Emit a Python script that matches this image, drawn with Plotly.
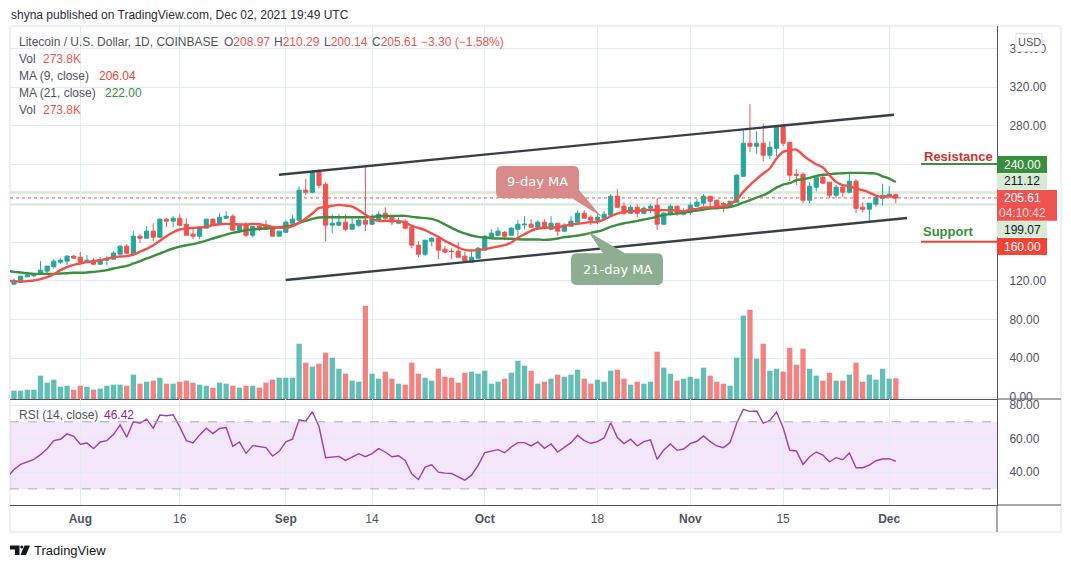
import pandas as pd
import plotly.graph_objects as go
from plotly.subplots import make_subplots

# daily candles, LTC/USD on Coinbase, first bar 22 Jul 2021
first_day = "2021-07-22"
# the indicator lines start one day earlier, under the left edge of the chart
first_line_day = "2021-07-21"

opens = [116.6,118.6,124.1,125.2,126.9,130.0,134.5,139.3,140.3,145.5,144.4,139.3,141.3,137.2,141.3,142.4,147.5,155.8,147.5,166.1,
         164.0,171.3,165.1,183.7,181.6,184.7,178.5,168.2,166.1,174.4,183.7,178.5,184.7,186.7,172.3,177.5,167.1,176.4,177.5,174.4,
         166.1,170.2,179.5,182.6,213.6,211.5,232.2,219.8,177.5,177.5,180.6,173.3,177.5,182.6,178.5,182.6,189.8,185.7,179.5,181.6,
         175.4,156.8,147.5,160.9,164.0,152.7,150.6,150.6,145.5,139.3,143.4,151.7,165.1,167.1,170.2,167.1,173.3,177.8,178.5,175.4,
         180.6,173.3,179.5,171.3,176.4,180.6,189.8,185.7,182.6,184.7,187.8,207.4,197.1,189.8,196.0,189.8,195.0,198.1,178.5,188.8,
         197.1,188.8,190.9,197.1,200.2,207.4,203.3,199.8,197.1,201.2,228.0,262.1,259.0,262.1,249.7,256.9,279.6,263.1,230.1,230.1,
         203.3,216.7,227.0,221.9,208.4,216.7,211.5,222.9,196.1,194.0,199.2,205.3,207.4,208.97]
highs = [122.4,124.8,128.3,128.3,140.3,135.2,142.4,143.4,146.5,146.5,149.6,146.5,143.4,144.4,145.5,150.6,156.8,157.9,171.3,168.2,
         176.4,179.5,184.7,184.7,186.7,188.8,184.7,174.4,176.4,183.7,184.7,189.8,191.9,188.8,178.5,180.6,176.4,179.5,182.6,174.4,
         171.3,182.6,187.8,217.7,224.9,234.2,234.2,221.8,188.8,188.8,188.8,184.7,184.7,238.3,188.8,191.9,196.0,187.8,185.4,183.7,
         175.4,160.9,162.0,165.1,165.1,155.8,153.7,159.9,149.6,150.6,154.8,167.1,173.3,175.4,171.3,175.4,182.6,186.7,183.7,182.6,
         183.7,186.7,179.5,179.5,186.7,192.9,192.9,187.8,188.8,191.9,209.5,214.6,201.2,198.1,199.1,197.1,199.1,205.3,190.9,199.2,
         197.1,195.0,201.2,204.3,209.5,207.4,203.3,201.2,202.2,230.1,275.5,302.4,274.5,282.7,264.2,279.6,281.7,263.1,235.3,232.2,
         221.9,229.1,231.1,221.9,218.8,218.8,231.1,225.0,201.2,200.2,206.4,219.8,217.7,210.29]
lows = [115.5,118.0,123.8,123.8,126.9,127.6,132.7,137.2,136.5,142.4,137.2,138.2,136.2,136.2,136.2,142.4,147.5,147.5,145.5,158.9,
        164.0,160.9,164.0,175.4,175.4,176.4,167.1,163.0,163.0,174.4,176.4,177.5,183.7,172.3,169.2,165.1,165.1,171.3,173.3,166.1,
        166.1,169.2,179.5,180.6,208.4,210.5,215.6,160.9,169.2,176.4,171.3,173.3,175.4,171.3,177.5,180.6,181.6,177.5,178.5,173.3,
        153.7,144.4,145.5,155.8,142.4,148.6,142.4,144.4,139.3,139.3,143.4,151.7,164.0,166.1,162.0,167.1,164.0,173.3,175.4,174.4,
        173.3,172.3,166.1,170.2,176.4,179.5,184.7,177.5,178.5,184.7,186.7,195.0,187.8,188.8,185.7,189.8,189.8,172.3,177.5,187.8,
        186.8,187.8,187.8,197.1,197.1,196.1,195.0,190.9,197.1,201.2,227.0,252.8,250.8,243.5,245.6,248.7,259.0,222.9,218.8,200.2,
        200.2,212.6,219.8,205.3,205.3,206.4,210.5,189.9,190.9,181.6,196.1,198.1,206.4,200.14]
closes = [120.4,124.8,126.2,127.2,131.0,135.2,140.3,141.3,145.5,143.4,139.3,141.3,137.2,142.0,143.4,148.6,155.8,148.6,166.1,164.0,
          171.3,165.1,183.7,181.6,184.7,177.5,167.1,166.1,175.4,183.7,177.5,185.7,186.7,172.3,177.5,167.1,176.4,174.4,173.3,166.1,
          171.3,180.6,183.7,213.6,211.5,232.2,218.7,177.5,179.5,180.6,173.3,178.5,182.6,178.5,183.7,188.8,184.7,180.6,181.6,174.4,
          156.8,147.5,162.0,164.0,151.7,149.6,150.3,144.4,140.3,144.4,153.7,166.1,169.2,171.3,166.1,174.4,178.5,178.5,175.4,180.6,
          174.4,179.5,171.3,177.5,181.6,189.8,184.7,182.6,185.7,188.8,207.4,196.0,189.8,196.0,189.8,195.0,197.1,178.5,189.9,197.1,
          190.9,191.9,198.1,201.2,207.4,202.2,197.1,199.2,202.2,229.1,262.1,259.0,262.1,249.7,258.0,279.6,262.1,229.1,229.1,203.3,
          217.7,227.0,220.8,208.4,216.7,211.5,222.9,195.0,194.0,200.2,206.4,208.4,209.5,205.61]
volumes = [110,110,123,123,309,216,256,163,176,123,176,163,123,137,176,190,190,176,322,203,
           229,243,282,203,203,229,243,216,190,176,150,216,203,176,150,176,176,150,216,256,
           282,282,282,732,481,428,467,613,547,401,335,243,229,1235,335,269,362,269,203,190,
           481,335,282,243,401,295,282,216,348,362,335,375,203,229,269,348,507,441,375,203,
           229,269,322,295,322,388,269,203,256,229,375,388,269,190,229,203,229,626,415,335,
           243,269,295,269,415,309,229,203,176,547,1103,1182,534,732,375,401,362,679,454,666,
           401,309,243,348,243,243,322,481,229,322,256,401,269,273.8]
ma9 = [120.0,119.7,119.0,119.7,120.4,121.7,123.8,126.9,131.0,134.1,136.5,137.9,139.3,140.3,141.3,142.7,144.4,145.1,145.5,147.2,150.0,
       153.0,156.8,161.3,166.1,170.2,173.0,174.0,174.7,175.0,175.7,177.5,178.5,178.8,178.5,178.2,178.2,178.8,178.5,177.1,175.7,
       175.0,174.7,176.4,179.9,184.3,189.5,195.3,196.0,197.5,198.4,197.8,196.7,192.9,188.5,184.0,181.9,181.9,181.9,181.9,180.2,
       176.8,174.7,172.3,168.9,165.4,161.3,157.9,154.4,152.0,151.3,151.7,152.7,154.1,155.4,156.8,159.6,164.4,168.2,171.6,174.0,
       174.7,175.0,175.4,176.8,178.2,178.8,179.9,180.6,180.9,183.3,186.7,189.5,191.2,191.9,192.3,192.9,193.3,192.9,193.0,193.0,
       192.6,191.6,193.6,194.3,195.7,195.7,196.4,197.1,199.2,204.0,211.9,218.8,225.0,230.8,236.0,246.3,253.2,254.9,255.6,249.7,
       244.6,240.4,237.0,229.1,222.2,218.8,217.7,215.3,213.6,211.2,208.1,206.7,207.4,206.04]
ma21 = [130.2,129.3,128.6,127.9,127.2,127.2,127.2,127.2,127.6,127.9,128.3,128.3,128.6,129.3,130.0,131.0,132.7,134.1,135.5,137.9,140.3,
        143.1,145.5,148.2,151.0,153.4,155.4,156.8,157.9,159.6,161.6,163.7,165.8,167.8,169.6,170.9,172.3,173.0,173.7,174.0,174.7,
        175.4,176.4,177.5,179.9,181.9,184.0,185.4,185.7,185.7,185.7,185.7,185.7,185.7,185.7,186.1,186.7,187.1,187.1,187.1,187.1,
        186.1,185.4,184.7,184.0,181.6,178.2,174.7,171.3,168.9,166.8,165.4,164.7,164.0,163.7,163.7,163.4,163.0,162.7,162.7,162.7,
        162.3,162.7,163.7,165.1,165.8,166.8,167.8,169.6,170.9,173.0,175.7,177.8,179.5,180.6,181.9,183.3,184.7,186.4,188.1,188.8,
        189.5,190.2,191.6,192.6,193.6,194.7,195.0,195.7,196.1,198.1,200.9,203.3,206.0,208.4,211.9,216.3,219.4,220.8,223.9,225.0,
        226.3,228.4,229.4,230.1,230.8,231.1,231.5,231.5,231.5,231.1,230.8,228.0,225.6,222.0]
rsi = [37.0,41.6,44.6,46.2,47.6,50.4,54.0,58.8,59.6,62.8,61.4,56.6,57.4,54.0,58.0,58.8,62.4,68.2,60.8,70.0,69.2,
       71.6,66.2,74.0,73.6,74.2,67.0,58.8,57.4,62.2,66.2,63.0,66.0,66.6,55.4,58.0,51.2,55.8,55.4,54.6,49.6,
       52.4,58.0,59.6,71.2,70.4,76.0,67.2,48.6,49.2,49.4,47.0,49.0,51.0,49.2,51.0,54.0,52.0,49.2,49.8,47.0,
       38.8,35.6,43.0,44.4,40.0,39.4,39.2,37.2,35.2,38.2,44.0,51.6,52.6,53.4,51.6,55.0,57.6,57.6,55.6,58.0,
       54.2,56.8,52.0,55.0,57.6,62.0,58.8,57.2,58.2,60.4,69.4,60.6,57.0,59.6,55.6,58.2,59.2,47.6,53.2,56.8,
       53.0,53.8,57.0,58.4,61.6,58.2,55.6,54.6,57.6,69.2,77.4,76.2,76.4,69.2,70.8,75.8,66.6,53.0,52.6,44.6,
       49.2,52.0,50.2,46.2,48.6,47.4,51.4,42.6,42.6,44.2,46.8,47.8,48.0,46.42]

date_ticks = ["2021-08-01", "2021-08-16", "2021-09-01", "2021-09-14", "2021-10-01",
              "2021-10-18", "2021-11-01", "2021-11-15", "2021-12-01"]
date_labels = ["<b>Aug</b>", "16", "<b>Sep</b>", "14", "<b>Oct</b>", "18", "<b>Nov</b>", "15", "<b>Dec</b>"]
price_ticks = [0, 40, 80, 120, 160, 200, 240, 280, 320, 360]
# 160, 200 and 240 sit behind the tags on the price axis
price_labels = ["0.00", "40.00", "80.00", "120.00", "", "", "", "280.00", "320.00", "360.00"]
rsi_ticks = [40, 60, 80]

dates = pd.date_range(first_day, periods=len(closes))
line_dates = pd.date_range(first_line_day, periods=len(ma9))

TEAL = "#26a69a"
RED = "#ef5350"
GREY = "#50535e"
GRID = "#e3ecf3"
MA_RED = "#f44f48"
MA_GREEN = "#3b8f3f"
FONT = "Liberation Sans"

# plot area in page pixels
LEFT, RIGHT, TOP, BOTTOM = 10, 997, 26, 505
SPLIT = 399


def px(x):
    return (x - LEFT) / (RIGHT - LEFT)


def py(y):
    return (BOTTOM - y) / (BOTTOM - TOP)


def pt(x, y):
    return f"{px(x):.5f},{py(y):.5f}"


fig = make_subplots(rows=2, cols=1, shared_xaxes=True, vertical_spacing=0,
                    row_heights=[SPLIT - TOP, BOTTOM - SPLIT],
                    specs=[[{"secondary_y": True}], [{}]])

vol_colors = ["rgba(38,166,154,0.72)" if c >= o else "rgba(239,83,80,0.72)" for o, c in zip(opens, closes)]
fig.add_trace(go.Bar(x=dates, y=volumes, marker_color=vol_colors, marker_line_width=0), row=1, col=1, secondary_y=True)
fig.add_trace(go.Candlestick(x=dates, open=opens, high=highs, low=lows, close=closes,
                             increasing=dict(line=dict(color=TEAL, width=1), fillcolor=TEAL),
                             decreasing=dict(line=dict(color=RED, width=1), fillcolor=RED),
                             whiskerwidth=0), row=1, col=1, secondary_y=False)
fig.add_trace(go.Scatter(x=line_dates, y=ma21, mode="lines", line=dict(color=MA_GREEN, width=2.4, shape="spline")),
              row=1, col=1, secondary_y=False)
fig.add_trace(go.Scatter(x=line_dates, y=ma9, mode="lines", line=dict(color=MA_RED, width=2.4, shape="spline")),
              row=1, col=1, secondary_y=False)
fig.add_trace(go.Scatter(x=line_dates, y=rsi, mode="lines", line=dict(color="#a33bb5", width=1.4)), row=2, col=1)

start = dates[0] - pd.Timedelta(hours=14.5)
end = dates[0] + pd.Timedelta(days=148.26)
fig.update_xaxes(domain=[0, 1], range=[start, end], rangeslider_visible=False, tickvals=date_ticks, ticktext=date_labels,
                 showgrid=True, gridcolor=GRID, gridwidth=1, zeroline=False, showline=True, linecolor=GREY, linewidth=1,
                 ticks="", tickfont=dict(family=FONT, size=12, color=GREY), ticklabelstandoff=3)
fig.update_xaxes(showticklabels=False, row=1, col=1)

fig.update_yaxes(side="right", range=[-2.06, 383.2], tickvals=price_ticks, ticktext=price_labels,
                 showgrid=True, gridcolor=GRID, gridwidth=1, zeroline=False, showline=True, linecolor=GREY, linewidth=1,
                 ticks="", tickfont=dict(family=FONT, size=12, color=GREY), ticklabelstandoff=9,
                 row=1, col=1, secondary_y=False)
fig.update_yaxes(range=[0, 4939], visible=False, showgrid=False, row=1, col=1, secondary_y=True)
fig.update_yaxes(side="right", range=[20.4, 83.6], tickvals=rsi_ticks, tickformat=".2f",
                 showgrid=True, gridcolor=GRID, gridwidth=1, zeroline=False, showline=True, linecolor=GREY, linewidth=1,
                 ticks="", tickfont=dict(family=FONT, size=12, color=GREY), ticklabelstandoff=9, row=2, col=1)

shapes = []
notes = []


def line_px(x0, y0, x1, y1, color, width=1, dash="solid"):
    shapes.append(dict(type="line", xref="paper", yref="paper", x0=px(x0), y0=py(y0), x1=px(x1), y1=py(y1),
                       line=dict(color=color, width=width, dash=dash), layer="above"))


def box_px(x0, y0, x1, y1, fill):
    shapes.append(dict(type="rect", xref="paper", yref="paper", x0=px(x0), y0=py(y0), x1=px(x1), y1=py(y1),
                       fillcolor=fill, line_width=0, layer="above"))


def note(x, y, text, color=GREY, size=12, anchor="left", family=FONT):
    notes.append(dict(xref="paper", yref="paper", x=px(x), y=py(y), text=text, showarrow=False,
                      xanchor=anchor, yanchor="middle", align=anchor, borderpad=0,
                      font=dict(family=family, size=size, color=color)))


# outer frame and pane separators running past the price axis
shapes.append(dict(type="rect", xref="paper", yref="paper", x0=px(10), y0=py(26), x1=px(1061), y1=py(532),
                   line=dict(color="#eff1f6", width=2.5), layer="below"))
line_px(997, 399, 1061, 399, GREY)
line_px(997, 505, 1061, 505, GREY)
line_px(997, 505, 997, 532, GREY)

# RSI band
shapes.append(dict(type="rect", xref="paper", yref="y3", x0=0, x1=1, y0=30, y1=70,
                   fillcolor="rgba(156,39,220,0.11)", line_width=0, layer="below"))
for level in [30, 70]:
    shapes.append(dict(type="line", xref="paper", yref="y3", x0=0, x1=1, y0=level, y1=level,
                       line=dict(color="#a8a8b2", width=1, dash="dash"), layer="above"))

# price lines
for level in [211.12, 199.07]:
    shapes.append(dict(type="line", xref="paper", yref="y", x0=0, x1=1, y0=level, y1=level,
                       line=dict(color="#d8ead4", width=2.5), layer="below"))
shapes.append(dict(type="line", xref="paper", yref="y", x0=0, x1=1, y0=205.61, y1=205.61,
                   line=dict(color="#ef5350", width=1, dash="dot"), layer="above"))

# channel
line_px(279, 174.7, 894, 114.7, "#3a3e49", 2.4)
line_px(285.7, 280, 907, 218, "#3a3e49", 2.4)

# resistance / support drawings
line_px(921, 164, 997, 164, MA_GREEN, 2)
line_px(921, 241.7, 997, 241.7, "#f44336", 2)
note(923, 156.5, "<b>Resistance</b>", "#d32f2f", 13)
note(922, 231.5, "<b>Support</b>", "#388e3c", 13)

# callouts
shapes.append(dict(type="path", xref="paper", yref="paper", fillcolor="rgb(217,138,138)", line_width=0, layer="above",
                   path=f"M {pt(502, 166)} L {pt(573, 166)} Q {pt(579, 166)} {pt(579, 172)} L {pt(579, 190)} "
                        f"L {pt(601.7, 216.7)} L {pt(572, 198.3)} L {pt(502, 198.3)} Q {pt(496, 198.3)} {pt(496, 192)} "
                        f"L {pt(496, 172)} Q {pt(496, 166)} {pt(502, 166)} Z"))
shapes.append(dict(type="path", xref="paper", yref="paper", fillcolor="rgb(141,174,145)", line_width=0, layer="above",
                   path=f"M {pt(577, 253.3)} L {pt(603, 253.3)} L {pt(588.3, 231.7)} L {pt(625, 253.3)} L {pt(657, 253.3)} "
                        f"Q {pt(663, 253.3)} {pt(663, 259)} L {pt(663, 279)} Q {pt(663, 285)} {pt(657, 285)} "
                        f"L {pt(577, 285)} Q {pt(571, 285)} {pt(571, 279)} L {pt(571, 259)} Q {pt(571, 253.3)} {pt(577, 253.3)} Z"))
note(537.5, 182, "9-day MA", "white", 13, "center", "DejaVu Sans")
note(617, 269, "21-day MA", "white", 13, "center", "DejaVu Sans")

# price axis tags
box_px(997, 156, 1047, 173, "#388e3c")
note(1022, 164.5, "240.00", "white", 12, "center")
box_px(997, 173.3, 1047, 189.5, "#d8ead4")
note(1022, 181.5, "211.12", "#131722", 12, "center")
box_px(997, 190, 1057, 220.7, "#ef5350")
note(1023, 198, "205.61", "white", 12, "center")
note(1023, 212.5, "04:10:42", "#fbd9d8", 12, "center")
box_px(997, 221.3, 1047, 237.3, "#d8ead4")
note(1022, 229.5, "199.07", "#131722", 12, "center")
box_px(997, 238, 1047, 255, "#f44336")
note(1022, 246.5, "160.00", "white", 12, "center")

# currency button
shapes.append(dict(type="rect", xref="paper", yref="paper", x0=px(1016), y0=py(33.5), x1=px(1042), y1=py(51.5),
                   fillcolor="white", line=dict(color="#dcdfe8", width=1), layer="above"))
note(1029, 42.5, "USD", GREY, 11, "center")

# header and legend text
note(10, 15, "shyna published on TradingView.com, Dec 02, 2021 19:49 UTC", "#2a2e39", 12)
note(18, 42, "Litecoin / U.S. Dollar, 1D, COINBASE")
for x, letter, value in [(222.5, "O", "208.97"), (273, "H", "210.29"), (323, "L", "200.14"), (371, "C", "205.61")]:
    note(x, 42, f'{letter}<span style="color:{RED}">{value}</span>')
note(420, 42, "−3.30 (−1.58%)", RED)
note(18, 59, "Vol")
note(41.5, 59, "273.8K", RED)
note(18, 76, "MA (9, close)")
note(97.5, 76, "206.04", "#f44336")
note(18, 93, "MA (21, close)")
note(103.5, 93, "222.00", "#388e3c")
note(18, 110, "Vol")
note(41.5, 110, "273.8K", RED)
note(18, 415, "RSI (14, close)")
note(103, 415, "46.42", "#8e24aa")

# logo
shapes.append(dict(type="path", xref="paper", yref="paper", fillcolor="#131722", line_width=0, layer="above",
                   path=f"M {pt(10, 545.5)} L {pt(19.5, 545.5)} L {pt(19.5, 555)} L {pt(15, 555)} L {pt(15, 549.5)} L {pt(10, 549.5)} Z "
                        f"M {pt(24.5, 545.5)} L {pt(30, 545.5)} L {pt(26, 555)} L {pt(20.5, 555)} Z"))
shapes.append(dict(type="circle", xref="paper", yref="paper", fillcolor="#131722", line_width=0, layer="above",
                   x0=px(20.3), x1=px(23.3), y0=py(545.5), y1=py(548.5)))
note(33, 550, "TradingView", "#131722", 13)

fig.update_layout(width=1071, height=568, autosize=False, showlegend=False, plot_bgcolor="white", paper_bgcolor="white",
                  margin=dict(l=LEFT, r=1071 - RIGHT, t=TOP, b=568 - BOTTOM, pad=0, autoexpand=False),
                  bargap=0.2, boxgap=0.1, shapes=shapes, annotations=notes, hovermode=False)

fig.write_html("out.html", post_script="document.body.style.margin='0';", config={"displayModeBar": False})
